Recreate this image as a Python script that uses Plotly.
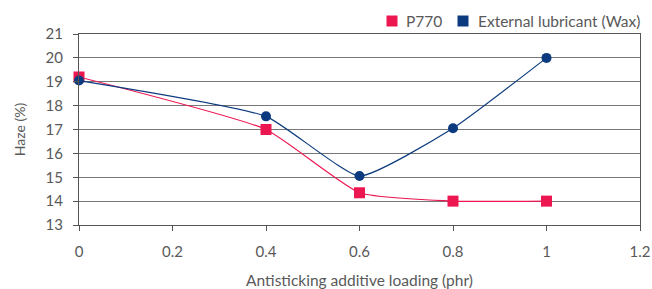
import plotly.graph_objects as go

x_vals = [0, 0.4, 0.6, 0.8, 1.0]
p770 = [19.2, 17.0, 14.35, 14.0, 14.0]
wax = [19.05, 17.55, 15.05, 17.05, 20.0]
x_ticks = [0, 0.2, 0.4, 0.6, 0.8, 1, 1.2]
x_tick_text = ["0", "0.2", "0.4", "0.6", "0.8", "1", "1.2"]
y_ticks = [13, 14, 15, 16, 17, 18, 19, 20, 21]
series_names = ["P770", "External lubricant (Wax)"]

RED = "#EC1651"
NAVY = "#0B3A7E"
TXT = "#595959"

W, H = 652, 289
ML, MR, MT, MB = 79, 12, 34, 64
PW, PH = W - ML - MR, H - MT - MB


def px_to_paper_x(px):
    return (px - ML) / PW


def px_to_paper_y(py):
    return (H - MB - py) / PH


fig = go.Figure()
fig.add_trace(go.Scatter(x=x_vals, y=p770, mode="lines+markers", name=series_names[0],
                         line=dict(color=RED, width=1.2, shape="spline", smoothing=0.45),
                         marker=dict(symbol="square", size=11, color=RED),
                         showlegend=False, cliponaxis=False))
fig.add_trace(go.Scatter(x=x_vals, y=wax, mode="lines+markers", name=series_names[1],
                         line=dict(color=NAVY, width=1.2, shape="spline", smoothing=0.45),
                         marker=dict(symbol="circle", size=10, color=NAVY),
                         showlegend=False, cliponaxis=False))

# legend drawn as shapes + text annotations
legend_y = px_to_paper_y(21)
legend_items = [(RED, 392, 404, series_names[0]), (NAVY, 463, 476, series_names[1])]
for color, sq_cx, text_x, label in legend_items:
    fig.add_shape(type="rect", xref="paper", yref="paper",
                  x0=px_to_paper_x(sq_cx - 5.5), x1=px_to_paper_x(sq_cx + 5.5),
                  y0=px_to_paper_y(21 + 5.5), y1=px_to_paper_y(21 - 5.5),
                  fillcolor=color, line=dict(width=0))
    fig.add_annotation(x=px_to_paper_x(text_x), y=legend_y, xref="paper", yref="paper",
                       text=label, showarrow=False, xanchor="left", yanchor="middle",
                       font=dict(size=15.5, color=TXT))

fig.update_layout(
    width=W, height=H,
    margin=dict(l=ML, r=MR, t=MT, b=MB, autoexpand=False),
    paper_bgcolor="white", plot_bgcolor="white",
    font=dict(family="Lato, sans-serif", size=14, color=TXT),
    showlegend=False,
    xaxis=dict(range=[0, 1.2], tickvals=x_ticks, ticktext=x_tick_text, automargin=False,
               showgrid=False, zeroline=False, showline=True, linecolor="#555555", linewidth=1,
               mirror=True, ticks="outside", ticklen=5, tickcolor="#555555",
               tickfont=dict(size=15, color=TXT), ticklabeloverflow="allow",
               ticklabelstandoff=8,
               title=dict(text="Antisticking additive loading (phr)", font=dict(size=15.5, color=TXT), standoff=19)),
    yaxis=dict(range=[13, 21], tickvals=y_ticks, automargin=False,
               showgrid=True, gridcolor="#777777", gridwidth=1,
               zeroline=False, showline=True, linecolor="#555555", linewidth=1, mirror=True,
               ticks="outside", ticklen=5, tickcolor="#555555",
               tickfont=dict(size=15, color=TXT), ticklabelstandoff=7,
               title=dict(text="Haze (%)", font=dict(size=14, color=TXT), standoff=16)),
)

fig.write_html("out.html", config={"displayModeBar": False},
               post_script="document.body.style.margin='0';")
